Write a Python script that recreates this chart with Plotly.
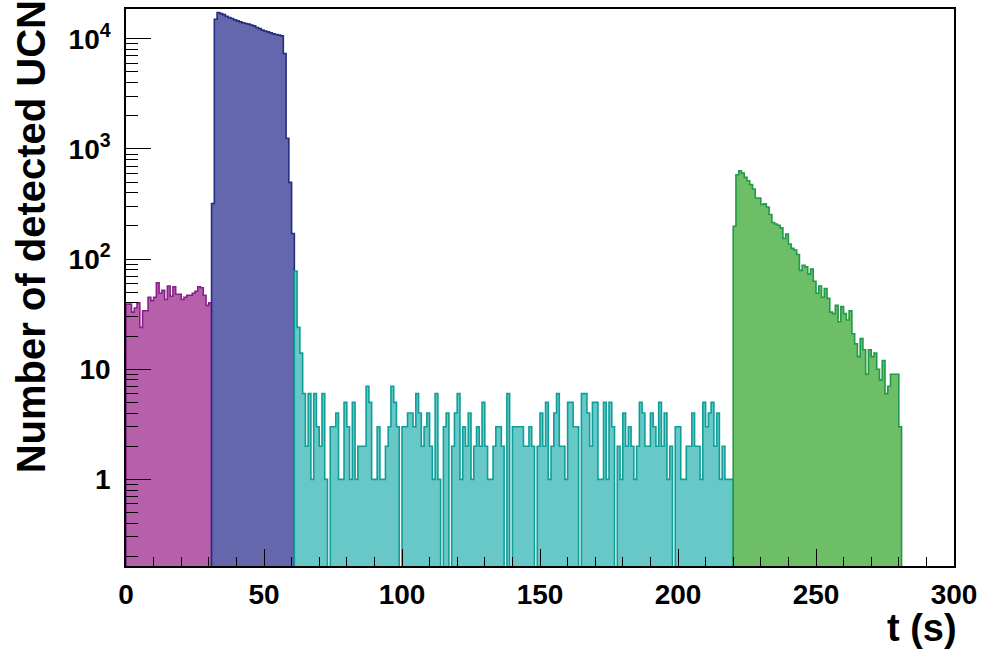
import numpy as np
import plotly.graph_objects as go

# ---------------- data (counts per 1 s bin) ----------------
bin_width = 1.0

magenta_start = 0
magenta_counts = [39, 39, 33, 36, 40, 24, 34, 34, 45, 42, 45, 61, 49, 52, 43, 57,
                  46, 56, 48, 48, 43, 45, 47, 47, 49, 51, 56, 55, 47, 38, 40]

blue_start = 31
blue_counts = [320, 15080, 17300, 16950, 16600, 16000, 15600, 15280, 14860, 14550,
               14260, 13960, 13770, 13600, 13310, 13120, 12660, 12390, 11990, 11740,
               11570, 11320, 11090, 10940, 10800, 10640, 7360, 1253, 497, 171]

teal_start = 61
teal_counts = [78, 24, 14, 6, 2, 6, 1, 6, 3, 2, 6, 1, 0, 3, 3, 4, 1, 1, 5, 3,
               1, 5, 1, 2, 2, 2, 7, 5, 1, 1, 3, 1, 1, 2, 3, 7, 5, 3, 0, 3,
               3, 4, 4, 3, 6, 4, 2, 3, 4, 2, 1, 6, 1, 0, 3, 4, 0, 2, 4, 6,
               1, 3, 2, 4, 1, 2, 3, 2, 5, 2, 1, 1, 2, 3, 3, 2, 0, 6, 0, 3,
               3, 3, 3, 2, 2, 3, 2, 0, 2, 4, 2, 5, 1, 2, 4, 6, 2, 2, 1, 5,
               5, 3, 3, 0, 6, 6, 4, 2, 5, 5, 1, 1, 5, 1, 5, 3, 0, 2, 1, 4,
               2, 3, 2, 1, 2, 5, 4, 2, 2, 4, 3, 2, 5, 2, 4, 1, 2, 0, 3, 3,
               1, 1, 2, 2, 4, 2, 2, 1, 5, 3, 4, 5, 2, 4, 1, 2, 1, 1, 1]

green_start = 220
green_counts = [199, 584, 635, 604, 552, 515, 474, 433, 359, 359, 313, 317, 297, 254,
                215, 208, 203, 192, 154, 169, 137, 125, 121, 110, 79, 88, 85, 73,
                81, 63, 49, 57, 45, 54, 44, 33, 32, 38, 27, 37, 32, 28, 34, 21,
                17, 13, 19, 15, 9, 15, 13, 14, 10, 8, 12, 6, 7, 9, 9, 9, 3]

x_ticks = [0, 50, 100, 150, 200, 250, 300]
y_ticks = [1, 10, 100, 1000, 10000]
y_ticktext = ["1", "10", "10<sup>2</sup>", "10<sup>3</sup>", "10<sup>4</sup>"]

x_title = "t (s)"
y_title = "Number of detected UCN"

# ---------------- styling ----------------
FONT = "Liberation Sans"
regions = [
    (magenta_start, magenta_counts, "rgb(181,96,168)", "#8a1f8c"),
    (blue_start, blue_counts, "rgb(101,103,173)", "#262c80"),
    (teal_start, teal_counts, "rgb(104,200,200)", "#109e98"),
    (green_start, green_counts, "rgb(109,190,103)", "#1f9a48"),
]

FLOOR = 1e-3  # drawing floor for empty bins (below the visible range)


def step_outline(start, counts):
    counts = np.asarray(counts, dtype=float)
    edges = start + np.arange(len(counts) + 1) * bin_width
    y = np.where(counts > 0, counts, FLOOR)
    xs = np.concatenate([[edges[0]], edges[:-1], [edges[-1]]])
    ys = np.concatenate([[FLOOR], y, [FLOOR]])
    return xs, ys


fig = go.Figure()
for start, counts, fill, line in regions:
    xs, ys = step_outline(start, counts)
    fig.add_trace(go.Scatter(
        x=xs, y=ys, mode="lines", line=dict(shape="hv", color=line, width=1.6),
        fill="toself", fillcolor=fill, hoverinfo="skip", showlegend=False))

minor_y = [m * 10 ** d for d in range(-1, 5) for m in range(2, 10)]

fig.update_layout(
    width=984, height=655,
    margin=dict(l=126, r=28, t=7, b=89),
    plot_bgcolor="white", paper_bgcolor="white",
    showlegend=False,
    font=dict(family=FONT, color="black"),
)

fig.update_xaxes(
    range=[0, 300], tickmode="array", tickvals=x_ticks,
    ticks="inside", ticklen=17, tickwidth=1.3, tickcolor="black",
    minor=dict(dtick=10, tick0=0, ticks="inside", ticklen=9, tickwidth=1, tickcolor="black"),
    showline=True, linecolor="black", linewidth=1.5, mirror=True,
    showgrid=False, zeroline=False, ticklabelstandoff=3,
    tickfont=dict(family=FONT, size=28, color="black", weight="bold"),
)

fig.update_yaxes(
    type="log", range=[-0.787, 4.271],
    tickmode="array", tickvals=y_ticks, ticktext=y_ticktext,
    ticks="inside", ticklen=25, tickwidth=1.3, tickcolor="black",
    minor=dict(tickmode="array", tickvals=minor_y, ticks="inside", ticklen=12,
               tickwidth=1, tickcolor="black"),
    showline=True, linecolor="black", linewidth=1.5, mirror=True,
    showgrid=False, zeroline=False, ticklabelstandoff=8,
    tickfont=dict(family=FONT, size=28, color="black", weight="bold"),
)

fig.add_annotation(
    text=y_title, xref="paper", yref="paper", x=0, y=0.590, xshift=-95,
    xanchor="center", yanchor="middle", textangle=-90, showarrow=False,
    font=dict(family=FONT, size=40, color="black", weight="bold"),
)
fig.add_annotation(
    text=x_title, xref="paper", yref="paper", x=1, y=0, yshift=-62, xshift=5,
    xanchor="right", yanchor="middle", showarrow=False,
    font=dict(family=FONT, size=38, color="black", weight="bold"),
)

fig.write_html(
    "out.html",
    config={"displayModeBar": False},
    post_script="document.body.style.margin='0';document.body.style.overflow='hidden';",
)
